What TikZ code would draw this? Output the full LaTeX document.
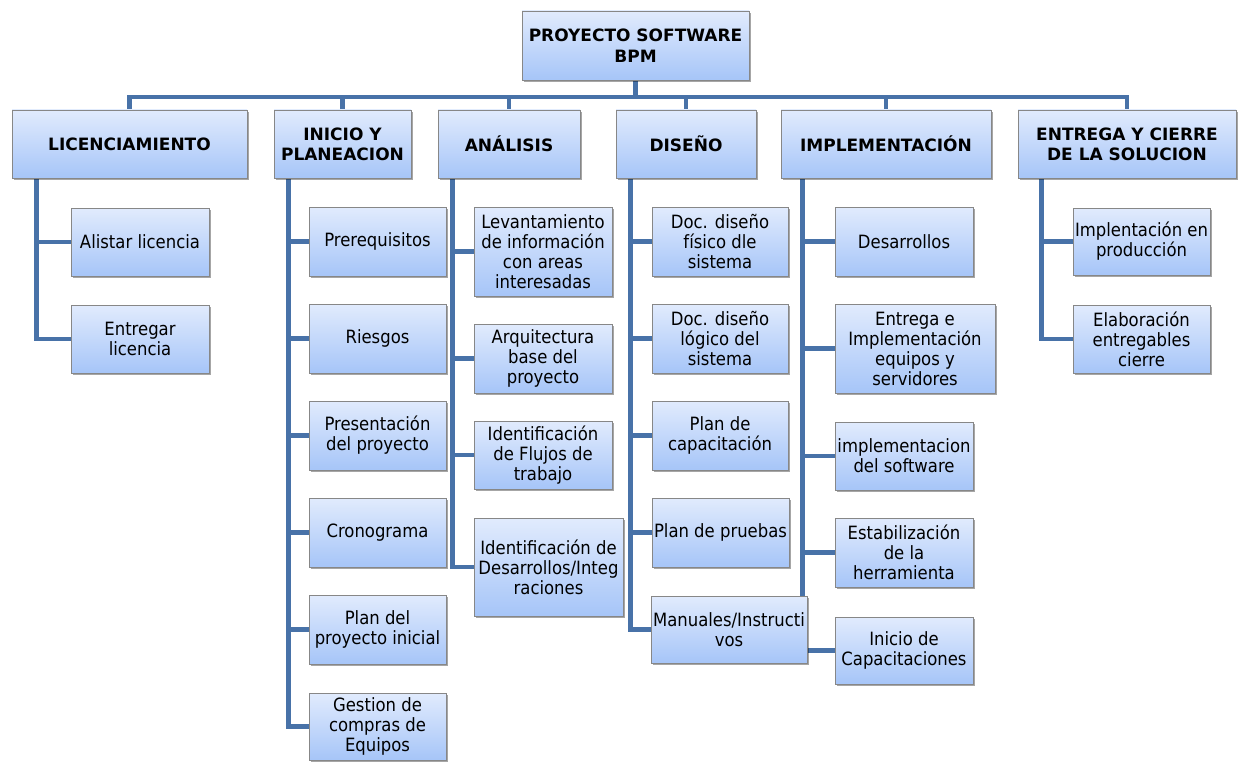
\documentclass[tikz,border=0pt]{standalone}
\usepackage{fontspec}
\setmainfont{DejaVu Sans Condensed}
\newfontfamily\headfont{DejaVu Sans}
\usetikzlibrary{shadows,backgrounds}

\definecolor{linkblue}{RGB}{72,114,168}
\definecolor{boxtop}{RGB}{225,235,253}
\definecolor{boxbot}{RGB}{166,197,248}
\definecolor{boxline}{RGB}{135,135,135}

\tikzset{
  box/.style={draw=boxline, line width=0.9pt, top color=boxtop, bottom color=boxbot,
    align=center, inner sep=0pt, text=black,
    font=\fontsize{18.3}{20}\selectfont,
    drop shadow={shadow xshift=1.6pt, shadow yshift=-1.6pt, opacity=0.35, fill=black}},
  head/.style={box, font=\headfont\bfseries\fontsize{17}{20}\selectfont},
  rootbox/.style={box, font=\headfont\bfseries\fontsize{17}{21.5}\selectfont},
  link/.style={draw=linkblue, line width=4.6pt},
}

% #1 style, #2 name, #3 left, #4 top, #5 right, #6 bottom, #7 text
\newcommand\wbsbox[7][box]{%
  \node[#1, minimum width={(#5-#3)*1pt}, minimum height={(#6-#4)*1pt}]
    (#2) at ({(#3+#5)/2},{(#4+#6)/2}) {#7};}

\begin{document}
\begin{tikzpicture}[x=1pt,y=-1pt]
\useasboundingbox (0,0) rectangle (1244,762);

% root and phase headers
\wbsbox[rootbox]{root}{522}{11}{749}{80}{PROYECTO SOFTWARE\\BPM}
\wbsbox[head]{h1}{12}{110}{247}{178}{LICENCIAMIENTO}
\wbsbox[head]{h2}{274}{110}{411}{178}{INICIO Y\\PLANEACION}
\wbsbox[head]{h3}{438}{110}{580}{178}{ANÁLISIS}
\wbsbox[head]{h4}{616}{110}{756}{178}{DISEÑO}
\wbsbox[head]{h5}{781}{110}{991}{178}{IMPLEMENTACIÓN}
\wbsbox[head]{h6}{1018}{110}{1236}{178}{ENTREGA Y CIERRE\\DE LA SOLUCION}

% licenciamiento
\wbsbox{c11}{71}{208}{209}{276}{Alistar licencia}
\wbsbox{c12}{71}{305}{209}{373}{Entregar\\licencia}

% inicio y planeacion
\wbsbox{c21}{309}{207}{446}{276}{Prerequisitos}
\wbsbox{c22}{309}{304}{446}{373}{Riesgos}
\wbsbox{c23}{309}{401}{446}{470}{Presentación\\del proyecto}
\wbsbox{c24}{309}{498}{446}{567}{Cronograma}
\wbsbox{c25}{309}{595}{446}{664}{Plan del\\proyecto inicial}
\wbsbox{c26}{309}{693}{446}{760}{Gestion de\\compras de\\Equipos}

% analisis
\wbsbox{c31}{474}{207}{612}{296}{Levantamiento\\de información\\con areas\\interesadas}
\wbsbox{c32}{474}{324}{612}{393}{Arquitectura\\base del\\proyecto}
\wbsbox{c33}{474}{421}{612}{489}{Identificación\\de Flujos de\\trabajo}
\wbsbox{c34}{474}{518}{623}{616}{Identificación de\\Desarrollos/Integ\\raciones}

% diseno
\wbsbox{c41}{652}{207}{788}{276}{Doc. diseño\\físico dle\\sistema}
\wbsbox{c42}{652}{304}{788}{373}{Doc. diseño\\lógico del\\sistema}
\wbsbox{c43}{652}{401}{788}{470}{Plan de\\capacitación}
\wbsbox{c44}{652}{498}{789}{567}{Plan de pruebas}
\wbsbox{c45}{651}{596}{807}{663}{Manuales/Instructi\\vos}

% implementacion
\wbsbox{c51}{835}{207}{973}{276}{Desarrollos}
\wbsbox{c52}{835}{304}{995}{393}{Entrega e\\Implementación\\equipos y\\servidores}
\wbsbox{c53}{835}{422}{973}{490}{implementacion\\del software}
\wbsbox{c54}{835}{518}{973}{587}{Estabilización\\de la\\herramienta}
\wbsbox{c55}{835}{617}{973}{684}{Inicio de\\Capacitaciones}

% entrega y cierre
\wbsbox{c61}{1073}{208}{1210}{275}{Implentación en\\producción}
\wbsbox{c62}{1073}{305}{1210}{373}{Elaboración\\entregables\\cierre}

\begin{scope}[on background layer]
  % top bar
  \coordinate (bar) at (0,97);
  \draw[link] (root.south) -- (root.south |- bar);
  \draw[link] (h1.north) -- (h1.north |- bar) -| (h6.north);
  \foreach \h in {h2,h3,h4,h5}
    \draw[link] (\h.north) -- (\h.north |- bar);

  % trunks
  \coordinate (t1) at ([xshift=25pt]h1.south west);
  \coordinate (t2) at ([xshift=15pt]h2.south west);
  \coordinate (t3) at ([xshift=15pt]h3.south west);
  \coordinate (t4) at ([xshift=15pt]h4.south west);
  \coordinate (t5) at ([xshift=22pt]h5.south west);
  \coordinate (t6) at ([xshift=24pt]h6.south west);

  \draw[link] (t1) |- (c12.west);
  \draw[link] (c11.west -| t1) -- (c11.west);

  \draw[link] (t2) |- (c26.west);
  \foreach \c in {c21,c22,c23,c24,c25}
    \draw[link] (\c.west -| t2) -- (\c.west);

  \draw[link] (t3) |- (c34.west);
  \foreach \c in {c31,c32,c33}
    \draw[link] (\c.west -| t3) -- (\c.west);

  \draw[link] (t4) |- (c45.west);
  \foreach \c in {c41,c42,c43,c44}
    \draw[link] (\c.west -| t4) -- (\c.west);

  \draw[link] (t5) |- (c55.west);
  \foreach \c in {c51,c52,c53,c54}
    \draw[link] (\c.west -| t5) -- (\c.west);

  \draw[link] (t6) |- (c62.west);
  \draw[link] (c61.west -| t6) -- (c61.west);
\end{scope}
\end{tikzpicture}
\end{document}
